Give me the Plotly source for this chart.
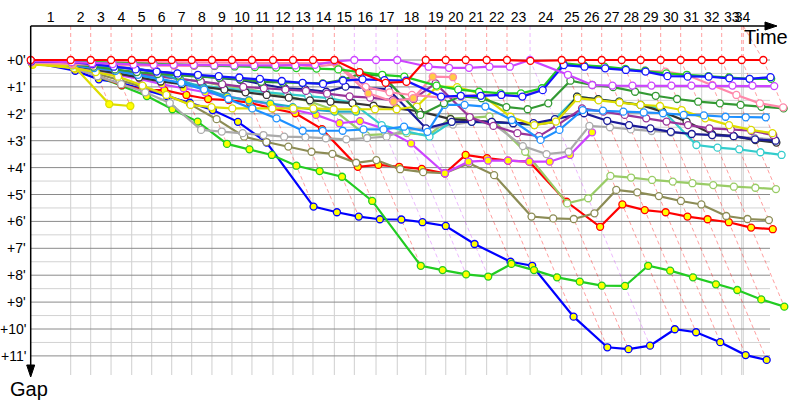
import plotly.graph_objects as go

# ---------------- data ----------------
lap_numbers = list(range(1, 35))
# leader's elapsed time (minutes) at the end of each lap, lap 0 = start
leader_times = [0.0, 3.54, 5.31, 7.11, 8.94, 10.71, 12.48, 14.25, 16.04, 17.81,
                19.58, 21.44, 23.21, 24.98, 26.87, 28.64, 30.56, 32.44, 34.96, 36.73,
                38.50, 40.35, 42.15, 44.19, 46.99, 48.76, 50.53, 52.30, 53.98, 55.75,
                57.52, 59.38, 61.15, 62.92, 64.83]
race_end_time = 63.06
gap_ticks = list(range(0, 12))
gap_tick_labels = ["+%d'" % m for m in gap_ticks]

N = None
# gaps (minutes) to the leader at the end of laps 0..34
gap_red = [0, 0, 0, 0, 0, 0, 0, 0, 0, 0, 0, 0, 0, 0, 0, 0.45, 0.85, 0.81, 0, 0, 0, 0, 0, 0.03,
           0, 0, 0, 0, 0, 0, 0, 0, 0, 0, 0]
gap_purple = [0.03, 0.08, 0.12, 0.15, 0.17, 0.18, 0.18, 0.19, 0.2, 0.2, 0.2, 0.2, 0.2, 0.18, 0.05,
              0, 0, 0, 0.25, 0.29, 0.29, 0.25, 0.25, 0, 0.55, 0.93, 0.95, 0.95, 0.95, 0.95, 0.95,
              0.95, 0.95, 0.95, 0.97]
gap_blue = [0.05, 0.08, 0.15, 0.25, 0.35, 0.43, 0.5, 0.55, 0.6, 0.65, 0.7, 0.78, 0.85, 0.89, 0.77,
            0.72, 0.75, 0.77, 1.36, 1.33, 1.33, 1.3, 1.36, 1.12, 0.19, 0.25, 0.31, 0.37, 0.43, 0.6,
            0.62, 0.62, 0.68, 0.7, 0.64]
gap_green = [0.03, 0.05, 0.08, 0.1, 0.12, 0.15, 0.17, 0.2, 0.22, 0.24, 0.26, 0.28, 0.3, 0.32, 0.35,
             0.45, 0.55, 0.62, 0.95, 1.1, 1.18, 1.24, 1.24, 1.05, 0.12, 0.2, 0.25, 0.33, 0.4, 0.5,
             0.55, 0.6, 0.65, 0.7, 0.7]
gap_pink = [0.05, 0.05, 0.06, 0.07, 0.08, 0.08, 0.09, 0.1, 0.1, 0.1, 0.11, 0.12, 0.12, 0.12, 0.1,
            1.0, 1.2, 1.3, 1.4, 1.35, 1.3, 1.3, 1.34, 1.09, 0.15, 0.2, 0.28, 0.35, 0.4, 0.43,
            0.56, 0.93, 1.3, 1.61, 1.76]
gap_darkgreen = [0.05, 0.15, 0.25, 0.35, 0.45, 0.52, 0.58, 0.62, 0.66, 0.72, 0.81, 0.84, 0.86, 0.87,
                 0.74, 0.52, 0.59, 2.04, 1.61, 1.35, 1.42, 1.75, 1.83, 1.61, 0.77, 0.93, 1.01, 1.18,
                 1.33, 1.45, 1.55, 1.61, 1.67, 1.74, 1.8]
gap_dodger = [0.1, 0.2, 0.3, 0.4, 0.55, 0.7, 0.85, 1.1, 1.45, 1.8, 2.17, 2.63, 2.63, 2.63, 2.58,
              2.58, 2.48, 2.67, 1.67, 1.67, 1.73, 2.23, 2.97, 2.6, 1.86, 1.88, 1.92, 1.95, 1.98,
              2.04, 2.06, 2.11, 2.13, 2.13, N]
gap_yellow = [0.15, 0.3, 0.45, 0.62, 0.95, 1.3, 1.67, 1.75, 1.8, 1.8, 1.8, 1.8, 1.8, 1.83, 1.83,
              1.83, 1.83, 1.73, 0.99, 1.01, 1.24, 2.11, 2.42, 2.29, 1.42, 1.5, 1.58, 1.67, 1.71,
              1.86, 2.17, 2.42, 2.6, 2.72, N]
gap_navy = [0.05, 0.1, 0.18, 0.25, 0.33, 0.42, 0.52, 0.6, 0.67, 0.74, 0.9, 1.05, 1.09, 1.18, 0.99,
            1.05, 1.09, 2.54, 2.3, 2.3, 2.3, 2.35, 2.35, 2.2, 1.98, 2.26, 2.42, 2.54, 2.67, 2.75,
            2.79, 2.83, 2.95, 3.0, N]
gap_black = [0.1, 0.2, 0.35, 0.5, 0.65, 0.8, 0.9, 1.0, 1.1, 1.2, 1.3, 1.4, 1.5, 1.55, 1.6,
             1.7, 1.8, 1.9, 2.2, 2.25, 2.3, 2.35, 2.4, 2.3, 1.36, 1.46, 1.55, 1.67, 1.92, 2.29,
             2.75, 2.83, 2.98, 3.07, N]
gap_darkpurple = [0.1, 0.2, 0.3, 0.4, 0.5, 0.6, 0.7, 0.8, 0.9, 1.0, 1.05, 1.1, 1.15, 1.25, 1.35,
                  1.4, 1.49, 1.45, 0.87, 2.12, 2.45, 2.72, 2.83, 2.42, 1.8, 1.92, 2.04, 2.17, 2.29,
                  2.42, 2.54, 2.58, 2.63, 2.79, N]
gap_cyan = [0.1, 0.2, 0.35, 0.5, 0.6, 0.75, 0.85, 0.95, 1.05, 1.12, 1.2, 1.28, 1.35, 1.42, 1.59,
            2.42, 2.65, 2.85, 2.3, 2.3, 2.33, 2.35, 2.42, 2.2, 1.36, 1.46, 1.55, 1.67, 1.8, 3.16,
            3.26, 3.32, 3.43, 3.53, N]
gap_grey = [0.1, 0.3, 0.6, 0.9, 1.2, 1.6, 2.6, 2.66, 2.72, 2.79, 2.85, 2.87, 2.91, 2.95, 2.9,
            2.85, 2.6, 2.55, 2.4, 2.3, 2.35, 3.2, 3.5, 3.41, 2.45, 2.5, 2.58, 2.64, 2.7, 2.75,
            2.8, 2.85, 2.9, 2.95, N]
gap_lightgreen = [0.1, 0.2, 0.3, 0.4, 0.5, 0.6, 0.7, 0.8, 0.95, 1.05, 1.2, 1.35, 1.55, 1.86, 2.79,
                  2.75, 2.72, 2.79, 2.17, 2.15, 2.1, 3.41, 5.33, 5.14, 4.31, 4.37, 4.46, 4.52, 4.58,
                  4.65, 4.71, 4.75, 4.8, N, N]
gap_olive = [0.05, 0.3, 0.5, 0.75, 1.0, 1.3, 1.65, 2.2, 2.85, 3.05, 3.22, 3.41, 3.49, 3.82, 3.72,
             4.06, 4.17, 4.21, 3.84, 4.28, 5.82, 5.89, 5.91, 5.7, 4.83, 4.92, 5.06, 5.24, 5.37,
             5.8, 5.91, 5.95, N, N, N]
gap_red_y = [0.05, 0.3, 0.59, 0.93, 1.12, 1.12, 1.3, 1.45, 1.49, 1.59, 1.8, 1.98, 2.57, 3.97, 3.9,
             3.97, 4.05, 4.21, 3.53, 3.65, 3.74, 3.78, 5.27, 6.2, 5.37, 5.58, 5.66, 5.82, 5.92,
             6.03, 6.23, 6.29, N, N, N]
gap_magenta_y = [0.05, 0.25, 0.4, 0.55, 0.7, 0.9, 1.05, 1.2, 1.35, 1.5, 1.65, 1.85, 2.04, 2.35, 2.27,
                 2.54, 3.1, 4.21, 3.78, 3.74, 3.74, 3.78, 3.78, 3.53, 2.69, N, N, N, N, N, N, N, N, N, N]
gap_green_y = [0.05, 0.25, 0.6, 0.95, 1.34, 1.83, 2.29, 3.12, 3.32, 3.53, 3.93, 4.13, 4.34, 5.24, 7.65,
               7.81, 7.97, 8.05, 7.58, 7.81, 8.08, 8.24, 8.39, 8.40, 7.65, 7.83, 8.08, 8.34, 8.55,
               8.9, 9.17, N, N, N, N]
gap_blue_y = [0.08, 0.4, 0.72, 0.85, 1.1, 1.34, 1.59, 1.86, 2.3, 3.07, 5.45, 5.66, 5.82, 5.92, 5.93,
              6.03, 6.17, 6.84, 7.5, 7.65, 9.54, 10.68, 10.75, 10.62, 10.01, 10.12, 10.49, 10.97,
              11.15, N, N, N, N, N, N]
gap_teal_y = [0.12, 0.19, 0.22, 0.25, 0.31, 0.47, 0.74, 1.05, 1.36, 1.5, 1.62, 1.75, 1.85, 1.92,
              1.92] + [N] * 20
gap_yellow_y = [0.18, 0.19, 1.64, 1.71] + [N] * 31
gap_pink_o = [0.1, 0.15, 0.18, 0.2, 0.2, 0.2, 0.22, 0.22, 0.23, 0.23, 0.23, 0.22, 0.18, 0.25, 0.15,
              1.24, 1.55, 1.42, 0.62, 0.64] + [N] * 15

# series: (gaps, line colour, marker fill) -- drawn bottom first
series = [
    (gap_blue_y, "#0000ff", "#ffff00"),
    (gap_green_y, "#22cc22", "#ffff00"),
    (gap_red_y, "#ff0000", "#ffff00"),
    (gap_olive, "#8c8c55", "#ffffff"),
    (gap_lightgreen, "#99cc66", "#ffffff"),
    (gap_magenta_y, "#cc44ff", "#ffff00"),
    (gap_grey, "#aaaaaa", "#ffffff"),
    (gap_cyan, "#33cccc", "#ffffff"),
    (gap_black, "#333333", "#ffffff"),
    (gap_navy, "#1a1a99", "#ffffff"),
    (gap_darkpurple, "#993399", "#ffffff"),
    (gap_teal_y, "#22aacc", "#ffff00"),
    (gap_yellow, "#dddd00", "#ffffff"),
    (gap_dodger, "#1e90ff", "#ffffff"),
    (gap_darkgreen, "#339933", "#ffffff"),
    (gap_pink, "#ff88aa", "#ffffff"),
    (gap_yellow_y, "#dddd00", "#ffff00"),
    (gap_pink_o, "#ff88aa", "#ffcc44"),
    (gap_green, "#22cc22", "#ffffff"),
    (gap_blue, "#1414ff", "#ffffff"),
    (gap_purple, "#cc44ff", "#ffffff"),
    (gap_red, "#ff0000", "#ffffff"),
]

# ---------------- geometry (pixel mapping) ----------------
W, H = 800, 400
SX, SY = 11.3, 26.9          # px per minute (time axis / gap axis)
X0, Y0 = 30.7, 60.0          # pixel position of t=0 / gap=0
x_range = [-X0 / SX, (W - X0) / SX]
y_range = [(H - Y0) / SY, -Y0 / SY]
AXIS_G = (26 - Y0) / SY      # gap value of the time axis line
GRID_BOTTOM = (375 - Y0) / SY
GRID_RIGHT = (770 - X0) / SX
FONT = "Liberation Sans"


def px(xp):
    return xp / W


def py(yp):
    return 1 - yp / H


fig = go.Figure()


def seg_trace(segs, color, width=1, dash=None):
    xs, ys = [], []
    for (xa, ya, xb, yb) in segs:
        xs += [xa, xb, None]
        ys += [ya, yb, None]
    fig.add_trace(go.Scatter(x=xs, y=ys, mode="lines", hoverinfo="skip", showlegend=False,
                             line=dict(color=color, width=width, dash=dash)))


grid_times = leader_times[1:34] + [race_end_time]
seg_trace([(t, 0, t, GRID_BOTTOM) for t in grid_times], "#cfcfcf")
seg_trace([(0, m + 0.5, GRID_RIGHT, m + 0.5) for m in gap_ticks[:-1]], "#d2d2d2")
seg_trace([(0, m, GRID_RIGHT, m) for m in gap_ticks], "#8a8a8a")

lead_color = {}
max_gap = {}
for k in range(1, 35):
    vals = [(s[0][k], s[1]) for s in series if s[0][k] is not None]
    lead_color[k] = min(vals, key=lambda v: v[0])[1]
    max_gap[k] = max(v[0] for v in vals)


def faint(c):
    r, g, b = int(c[1:3], 16), int(c[3:5], 16), int(c[5:7], 16)
    return "rgba(%d,%d,%d,0.38)" % (r, g, b)


groups = {}
for k in range(1, 35):
    c = faint(lead_color[k])
    t = leader_times[k]
    if k <= 33:
        groups.setdefault(c, []).append((t, AXIS_G, t, 0))
    else:
        groups.setdefault(c, []).append((race_end_time, AXIS_G, t, 0))
        groups.setdefault(c, []).append((race_end_time, AXIS_G, race_end_time, 0))
    groups[c].append((t, 0, t + max_gap[k], max_gap[k]))
for c, segs in groups.items():
    seg_trace(segs, c, width=1, dash="4px,3px")

for gaps, color, fill in series:
    xs = [leader_times[k] + g if g is not None else None for k, g in enumerate(gaps)]
    fig.add_trace(go.Scatter(
        x=xs, y=gaps, mode="lines+markers", showlegend=False, hoverinfo="skip",
        line=dict(color=color, width=2.2),
        marker=dict(size=7, color=fill, line=dict(color=color, width=1.3)),
    ))

label_x = []
for k in lap_numbers:
    right = min(leader_times[k], race_end_time) if k == 34 else leader_times[k]
    label_x.append((leader_times[k - 1] + right) / 2)
fig.add_trace(go.Scatter(x=label_x, y=[(18 - Y0) / SY] * len(lap_numbers),
                         text=[str(k) for k in lap_numbers], mode="text", hoverinfo="skip",
                         showlegend=False,
                         textfont=dict(family=FONT, size=14, color="#000000")))

annotations = []
for m, lab in zip(gap_ticks, gap_tick_labels):
    annotations.append(dict(x=px(28), y=m, xref="paper", yref="y", text=lab, showarrow=False,
                            xanchor="right", yanchor="middle",
                            font=dict(family=FONT, size=14, color="#000000")))
annotations.append(dict(x=px(766), y=py(37), xref="paper", yref="paper", text="Time",
                        showarrow=False, xanchor="center", yanchor="middle",
                        font=dict(family=FONT, size=20, color="#000000")))
annotations.append(dict(x=px(29), y=py(389), xref="paper", yref="paper", text="Gap",
                        showarrow=False, xanchor="center", yanchor="middle",
                        font=dict(family=FONT, size=20, color="#000000")))

shapes = [
    dict(type="line", xref="paper", yref="paper", x0=px(X0), y0=py(26), x1=px(768), y1=py(26),
         line=dict(color="#000000", width=1.5)),
    dict(type="path", xref="paper", yref="paper",
         path="M %f %f L %f %f L %f %f Z" % (px(765), py(22), px(777), py(26), px(765), py(30)),
         fillcolor="#000000", line=dict(color="#000000", width=1)),
    dict(type="line", xref="paper", yref="paper", x0=px(X0), y0=py(26), x1=px(X0), y1=py(368),
         line=dict(color="#000000", width=1.5)),
    dict(type="path", xref="paper", yref="paper",
         path="M %f %f L %f %f L %f %f Z" % (px(X0 - 4), py(365), px(X0), py(377), px(X0 + 4), py(365)),
         fillcolor="#000000", line=dict(color="#000000", width=1)),
]

fig.update_layout(
    width=W, height=H, margin=dict(l=0, r=0, t=0, b=0, pad=0),
    paper_bgcolor="#ffffff", plot_bgcolor="#ffffff",
    xaxis=dict(range=x_range, visible=False, fixedrange=True),
    yaxis=dict(range=y_range, visible=False, fixedrange=True),
    annotations=annotations, shapes=shapes, showlegend=False,
)

fig.write_html("out.html", config={"displayModeBar": False},
               post_script="document.body.style.margin='0';document.body.style.overflow='hidden';")
